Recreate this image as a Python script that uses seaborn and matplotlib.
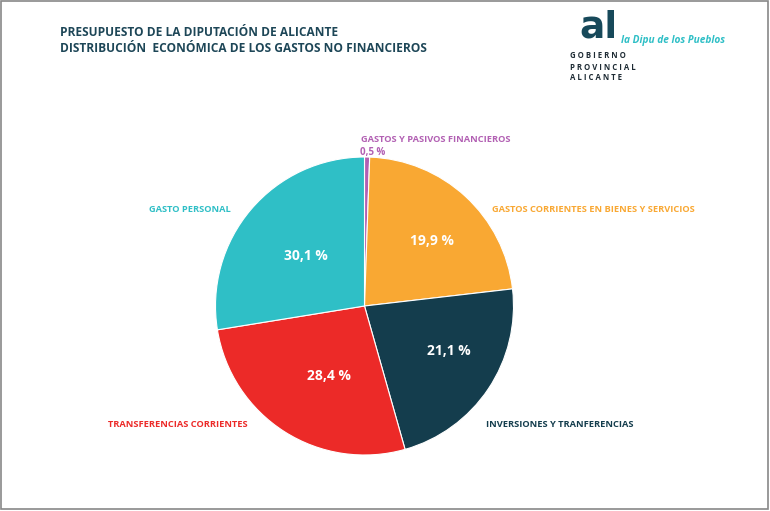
import matplotlib
matplotlib.use("Agg")
import matplotlib.pyplot as plt
import seaborn as sns
from matplotlib.patches import Rectangle

# datos del presupuesto (porcentaje del gasto no financiero)
categorias = [
    "GASTOS Y PASIVOS FINANCIEROS",
    "GASTOS CORRIENTES EN BIENES Y SERVICIOS",
    "INVERSIONES Y TRANFERENCIAS",
    "TRANSFERENCIAS CORRIENTES",
    "GASTO PERSONAL",
]
valores = [0.5, 19.9, 21.1, 28.4, 30.1]
etiquetas_pct = ["0,5 %", "19,9 %", "21,1 %", "28,4 %", "30,1 %"]
# el grafico original no dibuja los sectores a escala: amplitud (grados)
sectores = [2.0, 81.4, 80.8, 96.6, 99.2]
colores = ["#b260b3", "#f9a833", "#143d4d", "#ec2a28", "#2fbfc6"]

sns.set_theme(style="white")
plt.rcParams["font.family"] = ["Open Sans", "DejaVu Sans"]

fig = plt.figure(figsize=(7.7, 5.11), dpi=100)
ax = fig.add_axes([0, 0, 1, 1])

# pixel -> datos: centro (364.5, 306), radio 149 px
R = 149.0
cx, cy = 364.5, 306.0
def px(x, y):
    return (x - cx) / R, (cy - y) / R

ax.pie(sectores, colors=sns.color_palette(colores), startangle=90, counterclock=False,
       radius=1.0, center=(0, 0),
       wedgeprops=dict(edgecolor="white", linewidth=0.8))
ax.set_aspect("auto")
ax.set_xlim(-cx / R, (770 - cx) / R)
ax.set_ylim((cy - 511) / R, cy / R)
ax.axis("off")

# etiquetas de categoria
pos_cat = [(361, 139, "left"), (492, 209, "left"), (486, 424, "left"),
           (178, 424, "center"), (190, 209, "center")]
for cat, col, (x, y, ha) in zip(categorias, colores, pos_cat):
    ax.text(*px(x, y), cat, color=col, fontsize=6.7, fontweight="bold",
            ha=ha, va="center")

# porcentajes
pos_pct = [(360, 152), (432, 241), (449, 351), (329, 376), (306, 256)]
for i, (lab, (x, y)) in enumerate(zip(etiquetas_pct, pos_pct)):
    if i == 0:
        ax.text(*px(x, y), lab, color=colores[0], fontsize=7, fontweight="bold",
                ha="left", va="center")
    else:
        ax.text(*px(x, y), lab, color="white", fontsize=10, fontweight="bold",
                ha="center", va="center")

# titulo
fig.text(60 / 770, 1 - 32 / 511, "PRESUPUESTO DE LA DIPUTACIÓN DE ALICANTE",
         color="#1d4657", fontsize=8.6, fontweight="bold", va="center")
fig.text(60 / 770, 1 - 48 / 511, "DISTRIBUCIÓN  ECONÓMICA DE LOS GASTOS NO FINANCIEROS",
         color="#1d4657", fontsize=8.6, fontweight="bold", va="center")

# logo
fig.text(579 / 770, 1 - 27 / 511, "al", color="#17495a", fontsize=27, fontweight="bold",
         family=["DejaVu Sans"], va="center", ha="left")
fig.text(621 / 770, 1 - 40 / 511, "la Dipu de los Pueblos", color="#2fbfc6",
         fontsize=7.3, style="italic", fontweight="bold", va="center", ha="left")
for j, linea in enumerate(["G O B I E R N O", "P R O V I N C I A L", "A L I C A N T E"]):
    fig.text(570 / 770, 1 - (56 + 11 * j) / 511, linea, color="#1d2a33",
             fontsize=5.6, fontweight="bold", va="center", ha="left")

# marco
fig.patches.append(Rectangle((0.001, 0.003), 0.997, 0.995, transform=fig.transFigure,
                             fill=False, edgecolor="#888888", linewidth=1.2))

fig.savefig("out.png", dpi=100, facecolor="white")
